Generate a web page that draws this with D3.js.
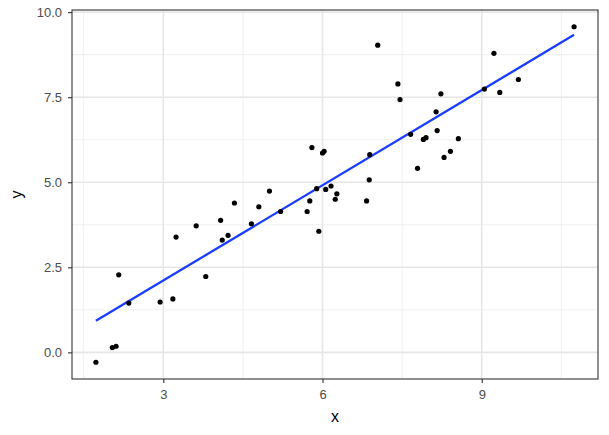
<!DOCTYPE html>
<html>
<head>
<meta charset="utf-8">
<script src="https://cdn.jsdelivr.net/npm/d3@7"></script>
<style>
  html, body { margin: 0; padding: 0; background: #fff; }
  svg { display: block; font-family: "Liberation Sans", Arial, sans-serif; }
</style>
</head>
<body>
<div id="chart"></div>
<script>
// Scatter of x vs y with a least-squares fit (ggplot theme_bw look).
var xValues = [1.73, 2.04, 2.11, 2.16, 2.35, 2.94, 3.18, 3.24, 3.62, 3.80,
  4.08, 4.11, 4.22, 4.34, 4.66, 4.80, 5.00, 5.21, 5.71, 5.76,
  5.80, 5.89, 5.93, 6.00, 6.03, 6.06, 6.16, 6.24, 6.27, 6.83,
  6.88, 6.89, 7.04, 7.42, 7.46, 7.66, 7.79, 7.90, 7.95, 8.14,
  8.16, 8.23, 8.29, 8.41, 8.56, 9.05, 9.23, 9.34, 9.69, 10.74];
var yValues = [-0.29, 0.14, 0.18, 2.28, 1.45, 1.48, 1.57, 3.39, 3.72, 2.23,
  3.88, 3.30, 3.44, 4.39, 3.78, 4.28, 4.74, 4.14, 4.14, 4.45,
  6.02, 4.81, 3.56, 5.86, 5.91, 4.79, 4.89, 4.50, 4.66, 4.45,
  5.07, 5.81, 9.03, 7.89, 7.43, 6.41, 5.41, 6.26, 6.31, 7.07,
  6.52, 7.60, 5.73, 5.91, 6.28, 7.74, 8.79, 7.64, 8.02, 9.57];
var xTicks = [3, 6, 9];
var xMinor = [1.5, 4.5, 7.5, 10.5];
var yTicks = [0, 2.5, 5, 7.5, 10];
var yMinor = [1.25, 3.75, 6.25, 8.75];

(function () {
  'use strict';

  var W = 609, H = 435;
  var margin = { top: 10, right: 11, bottom: 56, left: 72 };
  var w = W - margin.left - margin.right;
  var h = H - margin.top - margin.bottom;

  var points = xValues.map(function (x, i) { return { x: x, y: yValues[i] }; });

  // ggplot-style 5% expansion
  var xExt = d3.extent(xValues), yExt = d3.extent(yValues);
  var xPad = (xExt[1] - xExt[0]) * 0.05, yPad = (yExt[1] - yExt[0]) * 0.05;
  var x = d3.scaleLinear().domain([xExt[0] - xPad, xExt[1] + xPad]).range([0, w]);
  var y = d3.scaleLinear().domain([yExt[0] - yPad, yExt[1] + yPad]).range([h, 0]);

  // least squares fit
  var mx = d3.mean(xValues), my = d3.mean(yValues);
  var sxy = d3.sum(points, function (d) { return (d.x - mx) * (d.y - my); });
  var sxx = d3.sum(points, function (d) { return (d.x - mx) * (d.x - mx); });
  var slope = sxy / sxx, intercept = my - slope * mx;

  var svg = d3.select('#chart').append('svg').attr('width', W).attr('height', H);
  var g = svg.append('g').attr('transform', 'translate(' + margin.left + ',' + margin.top + ')');

  // minor grid
  g.selectAll('.vminor').data(xMinor).enter().append('line')
    .attr('x1', x).attr('x2', x).attr('y1', 0).attr('y2', h)
    .attr('stroke', '#ebebeb').attr('stroke-width', 0.8);
  g.selectAll('.hminor').data(yMinor).enter().append('line')
    .attr('y1', y).attr('y2', y).attr('x1', 0).attr('x2', w)
    .attr('stroke', '#ebebeb').attr('stroke-width', 0.8);
  // major grid
  g.selectAll('.vmajor').data(xTicks).enter().append('line')
    .attr('x1', x).attr('x2', x).attr('y1', 0).attr('y2', h)
    .attr('stroke', '#e6e6e6').attr('stroke-width', 1.6);
  g.selectAll('.hmajor').data(yTicks).enter().append('line')
    .attr('y1', y).attr('y2', y).attr('x1', 0).attr('x2', w)
    .attr('stroke', '#e6e6e6').attr('stroke-width', 1.6);

  // fit line
  g.append('line')
    .attr('x1', x(xExt[0])).attr('y1', y(intercept + slope * xExt[0]))
    .attr('x2', x(xExt[1])).attr('y2', y(intercept + slope * xExt[1]))
    .attr('stroke', '#1a3dff').attr('stroke-width', 2.3);

  // points
  g.selectAll('.pt').data(points).enter().append('circle')
    .attr('cx', function (d) { return x(d.x); })
    .attr('cy', function (d) { return y(d.y); })
    .attr('r', 2.6).attr('fill', '#000');

  // panel border
  g.append('rect').attr('width', w).attr('height', h)
    .attr('fill', 'none').attr('stroke', '#333333').attr('stroke-width', 1.1);

  // axes
  var xAxis = g.append('g').attr('transform', 'translate(0,' + h + ')')
    .call(d3.axisBottom(x).tickValues(xTicks).tickSize(4).tickPadding(7).tickFormat(d3.format('d')));
  var yAxis = g.append('g')
    .call(d3.axisLeft(y).tickValues(yTicks).tickSize(4).tickPadding(6).tickFormat(d3.format('.1f')));
  [xAxis, yAxis].forEach(function (a) {
    a.select('.domain').remove();
    a.selectAll('.tick line').attr('stroke', '#333333').attr('stroke-width', 1.1);
    a.selectAll('.tick text').attr('fill', '#4d4d4d')
      .style('font-size', '13px').style('font-family', '"Liberation Sans", Arial, sans-serif');
  });

  // titles
  svg.append('text').attr('x', margin.left + w / 2).attr('y', 422)
    .attr('text-anchor', 'middle').style('font-size', '16px').text('x');
  svg.append('text')
    .attr('transform', 'translate(22,' + (margin.top + h / 2) + ') rotate(-90)')
    .attr('text-anchor', 'middle').style('font-size', '16px').text('y');
})();
</script>
</body>
</html>
